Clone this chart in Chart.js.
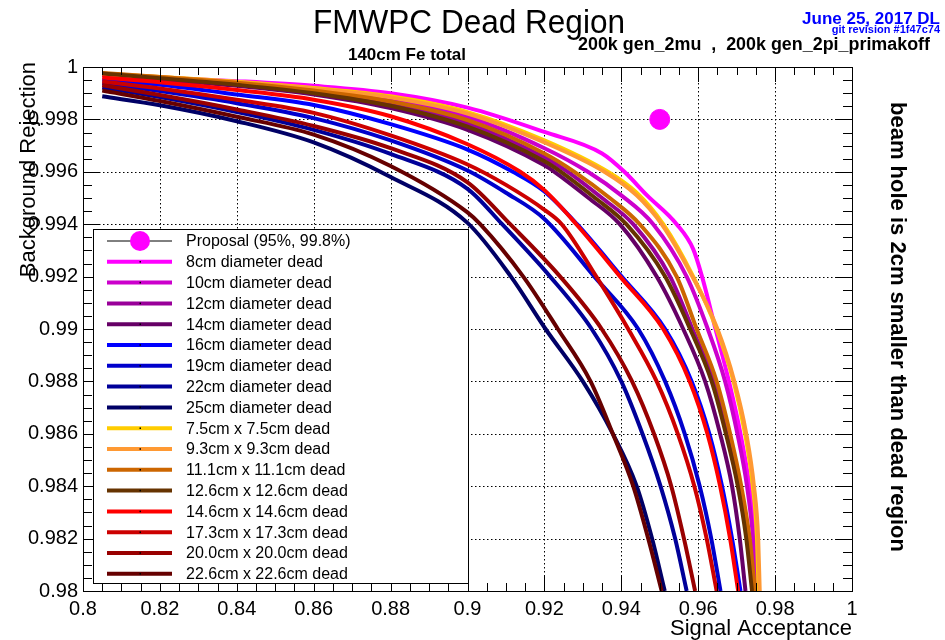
<!DOCTYPE html>
<html>
<head>
<meta charset="utf-8">
<title>FMWPC Dead Region</title>
<script src="https://cdn.jsdelivr.net/npm/chart.js@4.4.0/dist/chart.umd.min.js"></script>
<style>
  html, body { margin: 0; padding: 0; background: #fff; }
  canvas { display: block; }
</style>
</head>
<body>
<canvas id="chart" width="945" height="640"></canvas>
<script>
// [signal acceptance, background rejection]
const proposal = [[0.95, 0.998]];

const dia8  = [[0.805,0.99970],[0.82,0.99960],[0.84,0.99946],[0.86,0.99928],[0.88,0.99900],[0.90,0.99845],[0.92,0.99752],[0.935,0.99670],[0.9408,0.99600],[0.9467,0.99510],[0.9544,0.99400],[0.9587,0.99305],[0.9610,0.99200],[0.9645,0.99000],[0.9680,0.98800],[0.9710,0.98600],[0.9733,0.98400],[0.9747,0.98200],[0.9754,0.98000]];
const dia10 = [[0.805,0.99972],[0.82,0.99958],[0.84,0.99938],[0.86,0.99913],[0.88,0.99877],[0.90,0.99810],[0.92,0.99690],[0.9313,0.99600],[0.9400,0.99510],[0.9483,0.99400],[0.9570,0.99200],[0.9625,0.99000],[0.9670,0.98800],[0.9702,0.98600],[0.9727,0.98400],[0.9743,0.98200],[0.9752,0.98000]];
const dia12 = [[0.805,0.99973],[0.82,0.99957],[0.84,0.99934],[0.86,0.99904],[0.88,0.99860],[0.90,0.99785],[0.92,0.99655],[0.9261,0.99600],[0.9350,0.99500],[0.9431,0.99400],[0.9527,0.99200],[0.9585,0.99000],[0.9640,0.98800],[0.9676,0.98600],[0.9706,0.98400],[0.9729,0.98200],[0.9744,0.98000]];
const dia14 = [[0.805,0.99970],[0.82,0.99952],[0.84,0.99928],[0.86,0.99895],[0.88,0.99843],[0.90,0.99760],[0.92,0.99625],[0.9226,0.99600],[0.9315,0.99500],[0.9396,0.99400],[0.9492,0.99200],[0.9561,0.99000],[0.9618,0.98800],[0.9657,0.98600],[0.9688,0.98400],[0.9708,0.98200],[0.9723,0.98000]];
const dia16 = [[0.805,0.99952],[0.82,0.99932],[0.84,0.99895],[0.86,0.99855],[0.88,0.99782],[0.90,0.99685],[0.9118,0.99600],[0.9200,0.99525],[0.9285,0.99400],[0.9401,0.99200],[0.9514,0.99000],[0.9583,0.98800],[0.9629,0.98600],[0.9662,0.98400],[0.9688,0.98200],[0.9710,0.98000]];
const dia19 = [[0.805,0.99938],[0.82,0.99908],[0.84,0.99862],[0.86,0.99805],[0.88,0.99720],[0.90,0.99605],[0.91,0.99520],[0.92,0.99420],[0.9330,0.99200],[0.9444,0.99000],[0.9514,0.98800],[0.9565,0.98600],[0.9604,0.98400],[0.9634,0.98200],[0.9658,0.98000]];
const dia22 = [[0.805,0.99922],[0.82,0.99885],[0.84,0.99828],[0.86,0.99760],[0.88,0.99668],[0.90,0.99535],[0.9090,0.99400],[0.9215,0.99200],[0.9323,0.99000],[0.9400,0.98800],[0.9455,0.98600],[0.9502,0.98400],[0.9540,0.98200],[0.9570,0.98000]];
const dia25 = [[0.805,0.99888],[0.82,0.99854],[0.84,0.99793],[0.86,0.99712],[0.88,0.99580],[0.90,0.99405],[0.9113,0.99200],[0.9203,0.99000],[0.9300,0.98800],[0.9378,0.98600],[0.9440,0.98400],[0.9480,0.98200],[0.9513,0.98000]];

const sq75  = [[0.805,0.99973],[0.82,0.99962],[0.84,0.99944],[0.86,0.99920],[0.88,0.99888],[0.90,0.99828],[0.92,0.99720],[0.9365,0.99600],[0.9440,0.99520],[0.9509,0.99400],[0.9587,0.99200],[0.9648,0.99000],[0.9692,0.98800],[0.9722,0.98600],[0.9742,0.98400],[0.9753,0.98200],[0.9757,0.98000]];
const sq93  = [[0.805,0.99974],[0.82,0.99962],[0.84,0.99942],[0.86,0.99917],[0.88,0.99884],[0.90,0.99822],[0.92,0.99712],[0.9356,0.99600],[0.9440,0.99510],[0.9505,0.99400],[0.9585,0.99200],[0.9650,0.99000],[0.9694,0.98800],[0.9725,0.98600],[0.9745,0.98400],[0.9756,0.98200],[0.9760,0.98000]];
const sq111 = [[0.805,0.99977],[0.82,0.99962],[0.84,0.99940],[0.86,0.99910],[0.88,0.99868],[0.90,0.99797],[0.92,0.99670],[0.9278,0.99600],[0.9370,0.99500],[0.9448,0.99400],[0.9544,0.99200],[0.9596,0.99000],[0.9648,0.98800],[0.9683,0.98600],[0.9712,0.98400],[0.9734,0.98200],[0.9748,0.98000]];
const sq126 = [[0.805,0.99975],[0.82,0.99957],[0.84,0.99932],[0.86,0.99900],[0.88,0.99852],[0.90,0.99772],[0.92,0.99640],[0.9243,0.99600],[0.9332,0.99500],[0.9413,0.99400],[0.9514,0.99200],[0.9579,0.99000],[0.9635,0.98800],[0.9672,0.98600],[0.9703,0.98400],[0.9725,0.98200],[0.9740,0.98000]];
const sq146 = [[0.805,0.99960],[0.82,0.99942],[0.84,0.99912],[0.86,0.99875],[0.88,0.99812],[0.90,0.99705],[0.9137,0.99600],[0.9200,0.99530],[0.9283,0.99400],[0.9397,0.99200],[0.9509,0.99000],[0.9578,0.98800],[0.9624,0.98600],[0.9657,0.98400],[0.9683,0.98200],[0.9704,0.98000]];
const sq173 = [[0.805,0.99945],[0.82,0.99918],[0.84,0.99875],[0.86,0.99825],[0.88,0.99739],[0.90,0.99628],[0.91,0.99550],[0.92,0.99455],[0.9245,0.99400],[0.9335,0.99200],[0.9418,0.99000],[0.9492,0.98800],[0.9547,0.98600],[0.9590,0.98400],[0.9622,0.98200],[0.9648,0.98000]];
const sq200 = [[0.805,0.99930],[0.82,0.99893],[0.84,0.99838],[0.86,0.99775],[0.88,0.99690],[0.90,0.99560],[0.9111,0.99400],[0.9241,0.99200],[0.9349,0.99000],[0.9428,0.98800],[0.9485,0.98600],[0.9530,0.98400],[0.9563,0.98200],[0.9592,0.98000]];
const sq226 = [[0.805,0.99910],[0.82,0.99870],[0.84,0.99810],[0.86,0.99742],[0.88,0.99622],[0.90,0.99445],[0.9033,0.99400],[0.9145,0.99200],[0.9235,0.99000],[0.9320,0.98800],[0.9378,0.98600],[0.9431,0.98400],[0.9470,0.98200],[0.9505,0.98000]];

const curves = [dia8, dia10, dia12, dia14, dia16, dia19, dia22, dia25, sq75, sq93, sq111, sq126, sq146, sq173, sq200, sq226];
const LABELS = ['8cm diameter dead', '10cm diameter dead', '12cm diameter dead', '14cm diameter dead',
                '16cm diameter dead', '19cm diameter dead', '22cm diameter dead', '25cm diameter dead',
                '7.5cm x 7.5cm dead', '9.3cm x 9.3cm dead', '11.1cm x 11.1cm dead', '12.6cm x 12.6cm dead',
                '14.6cm x 14.6cm dead', '17.3cm x 17.3cm dead', '20.0cm x 20.0cm dead', '22.6cm x 22.6cm dead'];
const COLORS = ['#ff00ff', '#cc00cc', '#990099', '#660066', '#0000ff', '#0000cc', '#000099', '#000066',
                '#ffcc00', '#ff9933', '#cc6600', '#663300', '#ff0000', '#cc0000', '#990000', '#660000'];
const PROPOSAL_LABEL = 'Proposal (95%, 99.8%)';

const X_TICKS = { min: 0.8, max: 1, step: 0.02, minor: 0.005 };
const Y_TICKS = { min: 0.98, max: 1, step: 0.002, minor: 0.0005 };

const FONT = "'Liberation Sans', Arial, Helvetica, sans-serif";
Chart.defaults.font.family = FONT;
Chart.defaults.color = '#000';

const toPts = arr => arr.map(([x, y]) => ({x, y}));
const fmt = v => String(+v.toFixed(4));

const datasets = [{
    label: PROPOSAL_LABEL,
    data: toPts(proposal),
    showLine: false,
    pointRadius: 10,
    pointBackgroundColor: '#ff00ff',
    pointBorderColor: '#ff00ff',
    order: -100
}];
curves.forEach((c, i) => datasets.push({
    label: LABELS[i],
    data: toPts(c),
    showLine: true,
    borderColor: COLORS[i],
    borderWidth: 4,
    pointRadius: 0,
    cubicInterpolationMode: 'monotone',
    fill: false,
    order: -i   // later curves on top, like the original
}));

function line(ctx, x1, y1, x2, y2) {
    ctx.beginPath();
    ctx.moveTo(x1, y1);
    ctx.lineTo(x2, y2);
    ctx.stroke();
}

const rootFrame = {
    id: 'rootFrame',
    beforeDatasetsDraw(chart) {
        const {ctx, chartArea: a, scales: {x, y}} = chart;
        ctx.save();
        ctx.strokeStyle = '#000';
        ctx.lineWidth = 1;
        ctx.setLineDash([1.5, 2.5]);
        x.ticks.forEach(t => {
            if (t.value <= x.min || t.value >= x.max) return;
            const px = Math.round(x.getPixelForValue(t.value)) + 0.5;
            line(ctx, px, a.top, px, a.bottom);
        });
        y.ticks.forEach(t => {
            if (t.value <= y.min || t.value >= y.max) return;
            const py = Math.round(y.getPixelForValue(t.value)) + 0.5;
            line(ctx, a.left, py, a.right, py);
        });
        ctx.restore();
    },
    afterDatasetsDraw(chart) {
        const {ctx, chartArea: a, scales: {x, y}} = chart;
        ctx.save();
        ctx.strokeStyle = '#000';
        ctx.lineWidth = 1;
        ctx.setLineDash([]);
        ctx.strokeRect(Math.round(a.left) + 0.5, Math.round(a.top) + 0.5,
                       Math.round(a.right - a.left), Math.round(a.bottom - a.top));

        // inward ticks on all four sides
        const nx = Math.round((X_TICKS.max - X_TICKS.min) / X_TICKS.minor);
        for (let i = 0; i <= nx; i++) {
            const px = Math.round(x.getPixelForValue(X_TICKS.min + i * X_TICKS.minor)) + 0.5;
            const len = i % 4 === 0 ? 15 : 8;
            line(ctx, px, a.bottom, px, a.bottom - len);
            line(ctx, px, a.top, px, a.top + len);
        }
        const ny = Math.round((Y_TICKS.max - Y_TICKS.min) / Y_TICKS.minor);
        for (let j = 0; j <= ny; j++) {
            const py = Math.round(y.getPixelForValue(Y_TICKS.min + j * Y_TICKS.minor)) + 0.5;
            const len = j % 4 === 0 ? 16 : 9;
            line(ctx, a.left, py, a.left + len, py);
            line(ctx, a.right, py, a.right - len, py);
        }

        // legend box
        const bx = 93.5, by = 229.5, bw = 375, bh = 354;
        ctx.fillStyle = '#fff';
        ctx.fillRect(bx, by, bw, bh);
        ctx.strokeRect(bx, by, bw, bh);
        ctx.font = '16px ' + FONT;
        ctx.textBaseline = 'middle';
        ctx.textAlign = 'left';
        chart.data.datasets.forEach((ds, i) => {
            const ry = 241 + i * 20.8;
            if (i === 0) {
                ctx.strokeStyle = '#000';
                ctx.lineWidth = 1;
                line(ctx, 107, ry, 172, ry);
                ctx.fillStyle = ds.pointBackgroundColor;
                ctx.beginPath();
                ctx.arc(140, ry, 10, 0, Math.PI * 2);
                ctx.fill();
            } else {
                ctx.strokeStyle = ds.borderColor;
                ctx.lineWidth = 4;
                line(ctx, 107, ry, 172, ry);
                ctx.fillStyle = '#000';
                ctx.fillRect(139.5, ry - 0.75, 1.5, 1.5);
            }
            ctx.fillStyle = '#000';
            ctx.fillText(ds.label, 186, ry + 1);
        });
        ctx.restore();
    },
    afterDraw(chart) {
        const ctx = chart.ctx;
        ctx.save();
        ctx.fillStyle = '#000';
        ctx.textBaseline = 'alphabetic';

        ctx.textAlign = 'center';
        ctx.font = '33px ' + FONT;
        ctx.fillText('FMWPC Dead Region', 469, 33, 312);

        ctx.font = 'bold 17px ' + FONT;
        ctx.fillText('140cm Fe total', 407, 60, 125);

        ctx.textAlign = 'left';
        ctx.font = 'bold 18px ' + FONT;
        ctx.fillText('200k gen_2mu  ,  200k gen_2pi_primakoff', 578, 50, 352);

        ctx.textAlign = 'right';
        ctx.fillStyle = '#0000ff';
        ctx.font = 'bold 17px ' + FONT;
        ctx.fillText('June 25, 2017 DL', 940, 24, 143);
        ctx.font = 'bold 11px ' + FONT;
        ctx.fillText('git revision #1f47c74', 940, 33, 114);

        ctx.fillStyle = '#000';
        ctx.font = '22px ' + FONT;
        ctx.fillText('Signal Acceptance', 852, 635, 182);

        ctx.save();
        ctx.translate(35, 62);
        ctx.rotate(-Math.PI / 2);
        ctx.textAlign = 'right';
        ctx.fillText('Background Rejection', 0, 0, 216);
        ctx.restore();

        ctx.save();
        ctx.translate(897, 327);
        ctx.rotate(Math.PI / 2);
        ctx.textAlign = 'center';
        ctx.textBaseline = 'middle';
        ctx.font = 'bold 22px ' + FONT;
        ctx.fillText('beam hole is 2cm smaller than dead region', 0, 0, 452);
        ctx.restore();

        ctx.restore();
    }
};

new Chart(document.getElementById('chart'), {
    type: 'scatter',
    data: {datasets},
    options: {
        responsive: false,
        animation: false,
        layout: {padding: {top: 67, right: 93, left: 0, bottom: 0}},
        plugins: {
            legend: {display: false},
            tooltip: {enabled: false},
            title: {display: false}
        },
        scales: {
            x: {
                type: 'linear',
                min: X_TICKS.min,
                max: X_TICKS.max,
                afterFit: s => { s.height = 49; },
                grid: {display: false, drawTicks: false},
                border: {display: false},
                ticks: {
                    stepSize: X_TICKS.step,
                    autoSkip: false,
                    maxRotation: 0,
                    padding: 6,
                    color: '#000',
                    font: {size: 20},
                    callback: v => fmt(v)
                }
            },
            y: {
                type: 'linear',
                min: Y_TICKS.min,
                max: Y_TICKS.max,
                afterFit: s => { s.width = 83; },
                grid: {display: false, drawTicks: false},
                border: {display: false},
                ticks: {
                    stepSize: Y_TICKS.step,
                    autoSkip: false,
                    padding: 5,
                    color: '#000',
                    font: {size: 20},
                    callback: v => fmt(v)
                }
            }
        }
    },
    plugins: [rootFrame]
});
</script>
</body>
</html>
